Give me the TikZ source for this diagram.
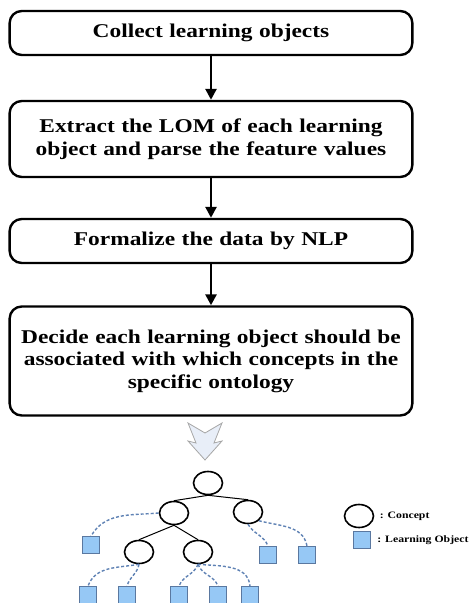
\documentclass[tikz,border=0pt]{standalone}
\usepackage{fontspec}
\setmainfont[FakeStretch=1.2]{Liberation Serif}
\usepackage{xcolor}
\usetikzlibrary{arrows.meta, shapes.geometric, positioning}

\definecolor{lofill}{RGB}{150,200,245}
\definecolor{lodraw}{RGB}{90,120,160}
\definecolor{dashblue}{RGB}{95,130,180}
\definecolor{hollowfill}{RGB}{232,238,248}

\begin{document}
\begin{tikzpicture}[x=1pt, y=-1pt, line width=1pt,
    stepbox/.style={draw, line width=2.4pt, rounded corners=12pt, minimum width=398pt,
        text width=396pt, align=center, font=\fontsize{19.5}{22.5}\selectfont\bfseries},
    flow/.style={-{Triangle[length=11pt, width=11pt]}, line width=2.6pt},
    concept/.style={draw, ellipse, line width=1.6pt, minimum width=29pt, minimum height=23pt, inner sep=0pt},
    lo/.style={draw=lodraw, fill=lofill, line width=0.8pt, minimum size=17pt, inner sep=0pt},
    lodash/.style={dashed, dash pattern=on 3pt off 2pt, draw=dashblue, line width=1.4pt},
    legend/.style={anchor=west, font=\fontsize{9.8}{10}\selectfont\bfseries, inner sep=0pt}]
            \useasboundingbox (0,0) rectangle (470,603);
            % flow of steps
            \node[stepbox, minimum height=44pt] (collect) at (211,33) {Collect learning objects};
            \node[stepbox, minimum height=76pt] (extract) at (211,139) {Extract the LOM of each learning\\object and parse the feature values};
            \node[stepbox, minimum height=44pt] (formalize) at (211,241) {Formalize the data by NLP};
            \node[stepbox, minimum height=109pt] (decide) at (211,361) {Decide each learning object should be\\associated with which concepts in the\\specific ontology};
            \draw[flow] (collect) -- (extract);
            \draw[flow] (extract) -- (formalize);
            \draw[flow] (formalize) -- (decide);
            % hollow arrow
            \draw[draw=gray!70, fill=hollowfill, line width=0.8pt] (188,423) -- (205,433) -- (222,423) -- (214,443)
                -- (222,441) -- (205,460) -- (188,441) -- (196,443) -- cycle;
            % ontology tree
            \node[concept] (root) at (208,483) {};
            \node[concept] (cl) at (174,513) {};
            \node[concept] (cr) at (248,512) {};
            \node[concept] (cll) at (139,552) {};
            \node[concept] (clr) at (198,552) {};
            \draw (root.south) -- (cl.north);
            \draw (root.south) -- (cr.north);
            \draw (cl.south) -- (cll.north);
            \draw (cl.south) -- (clr.north);
            % learning objects
            \node[lo] (lo1) at (91,545) {};
            \node[lo] (lo2) at (268,555) {};
            \node[lo] (lo3) at (307,555) {};
            \node[lo] (lo4) at (88,595) {};
            \node[lo] (lo5) at (127,595) {};
            \node[lo] (lo6) at (179,595) {};
            \node[lo] (lo7) at (218,595) {};
            \node[lo] (lo8) at (250,595) {};
            \draw[lodash] (cl.west) to[out=185, in=60] (lo1.north);
            \draw[lodash] (cr.south) to[out=-60, in=110] (lo2.north);
            \draw[lodash] (cr.south east) to[out=-15, in=100] (lo3.north);
            \draw[lodash] (cll.south) to[out=190, in=70] (lo4.north);
            \draw[lodash] (cll.south) to[out=-100, in=75] (lo5.north);
            \draw[lodash] (clr.south) to[out=-110, in=70] (lo6.north);
            \draw[lodash] (clr.south) to[out=-70, in=110] (lo7.north);
            \draw[lodash] (clr.south) to[out=-5, in=95] (lo8.north);
            % legend
            \node[concept] (keyconcept) at (359,516) {};
            \node[lo, minimum size=17pt] (keylo) at (362,540) {};
            \node[legend, right=5pt of keyconcept] (keyconcepttext) {: Concept};
            \node[legend, right=6pt of keylo] (keylotext) {: Learning Object};
\end{tikzpicture}
\end{document}
